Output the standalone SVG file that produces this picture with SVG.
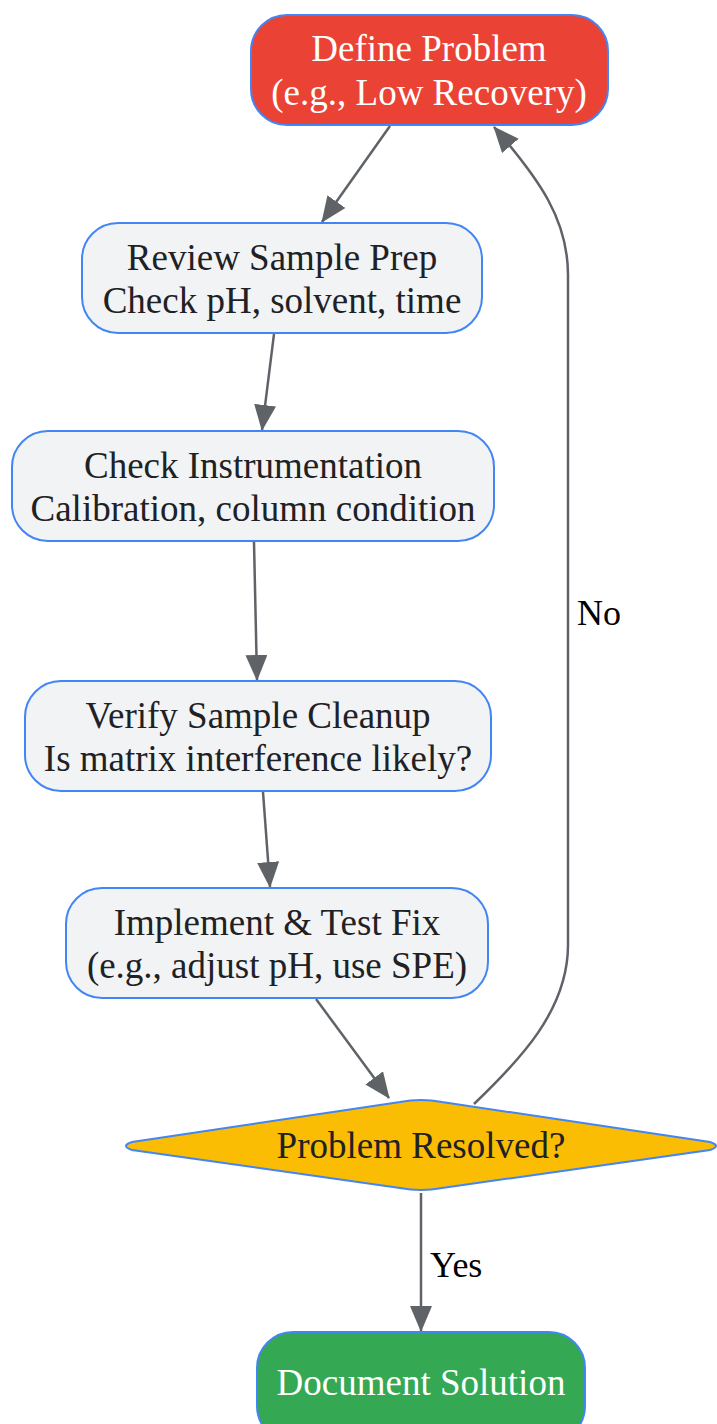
<svg xmlns="http://www.w3.org/2000/svg" width="717" height="1424" viewBox="0 0 717 1424">
<defs>
<marker id="arr" viewBox="0 0 26 22" refX="25" refY="11" markerWidth="26" markerHeight="22" markerUnits="userSpaceOnUse" orient="auto">
<path d="M0,0 L26,11 L0,22 z" fill="#5F6368"/>
</marker>
</defs>
<style>
.n{fill:#F1F3F4;stroke:#4285F4;stroke-width:2}
.t{font-family:"Liberation Serif",serif;font-size:37px;text-anchor:middle;fill:#202124}
.w{fill:#FFFFFF}
.e{fill:none;stroke:#5F6368;stroke-width:2.5;marker-end:url(#arr)}
.l{font-family:"Liberation Serif",serif;font-size:36px;fill:#000000}
</style>
<rect width="717" height="1424" fill="#FFFFFF"/>
<g id="connectors">
<path class="e" d="M390,126 L322,222"/>
<path class="e" d="M274,334 L262,430"/>
<path class="e" d="M254,542 L257,680"/>
<path class="e" d="M263,792 L270,887"/>
<path class="e" d="M316,999 L389,1098"/>
<path class="e" d="M474,1104 C520,1060 568,1010 568,945 L568,275 C568,220 540,180 494,127"/>
<path class="e" d="M421,1193 L421,1331"/>
<text class="l" x="577" y="625">No</text>
<text class="l" x="430" y="1277">Yes</text>
</g>
<g id="n1">
<rect x="251" y="15" width="357" height="110" rx="36" fill="#EA4335" stroke="#4285F4" stroke-width="2"/>
<text class="t w" x="429" y="61">Define Problem</text>
<text class="t w" x="429" y="105">(e.g., Low Recovery)</text>
</g>
<g id="n2">
<rect class="n" x="82" y="223" width="400" height="110" rx="36"/>
<text class="t" x="282" y="270">Review Sample Prep</text>
<text class="t" x="282" y="313">Check pH, solvent, time</text>
</g>
<g id="n3">
<rect class="n" x="12" y="431" width="482" height="110" rx="36"/>
<text class="t" x="253" y="478">Check Instrumentation</text>
<text class="t" x="253" y="521">Calibration, column condition</text>
</g>
<g id="n4">
<rect class="n" x="25" y="681" width="466" height="110" rx="36"/>
<text class="t" x="258" y="728">Verify Sample Cleanup</text>
<text class="t" x="258" y="771">Is matrix interference likely?</text>
</g>
<g id="n5">
<rect class="n" x="66" y="888" width="422" height="110" rx="36"/>
<text class="t" x="277" y="935">Implement &amp; Test Fix</text>
<text class="t" x="277" y="978">(e.g., adjust pH, use SPE)</text>
</g>
<g id="n6">
<path d="M400,1102 Q421,1098 442,1102 L710,1142 Q722,1146 710,1150 L442,1188 Q421,1192 400,1188 L132,1150 Q120,1146 132,1142 Z" fill="#FBBC04" stroke="#4285F4" stroke-width="2"/>
<text class="t" x="421" y="1158">Problem Resolved?</text>
</g>
<g id="n7">
<rect x="257" y="1332" width="328" height="110" rx="36" fill="#34A853" stroke="#4285F4" stroke-width="2"/>
<text class="t w" x="421" y="1395">Document Solution</text>
</g>
</svg>
